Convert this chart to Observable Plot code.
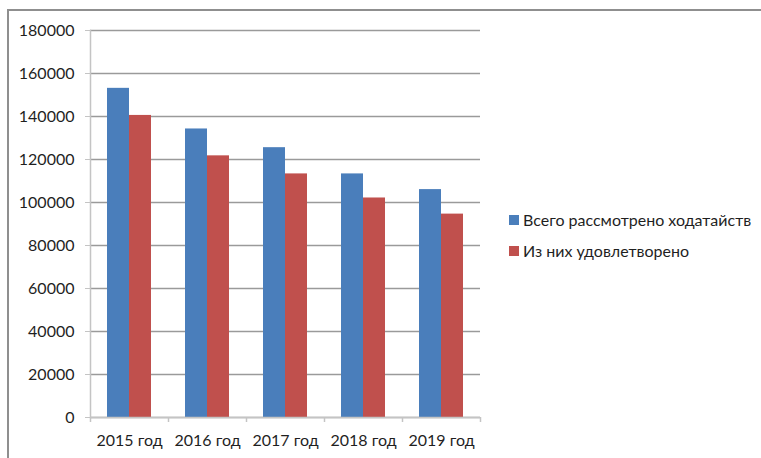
<!DOCTYPE html>
<html>
<head>
<meta charset="utf-8">
<script src="https://cdn.jsdelivr.net/npm/d3@7"></script>
<script src="https://cdn.jsdelivr.net/npm/@observablehq/plot@0.6"></script>
<style>
  html, body { margin: 0; padding: 0; background: #fff; }
  #wrap { position: relative; width: 761px; height: 458px; overflow: hidden; font-family: Lato, "Noto Sans", sans-serif; color: #1f1f1f; }
  #box { position: absolute; left: 7px; top: 9px; right: -10px; bottom: -10px; border-left: 2px solid #8f8f8f; border-top: 2px solid #8f8f8f; }
  #chart { position: absolute; left: 0; top: 0; }
  #legend { position: absolute; left: 509px; top: 209px; font-size: 16px; }
  .item { display: flex; align-items: center; height: 21px; margin-bottom: 10px; white-space: nowrap; }
  .sw { width: 10px; height: 10px; margin-right: 4px; }
</style>
</head>
<body>
<div id="wrap">
  <div id="box"></div>
  <div id="chart"></div>
  <div id="legend"></div>
</div>
<script>
// Applications considered vs. granted, by year
const years = ["2015 год", "2016 год", "2017 год", "2018 год", "2019 год"];
const totalConsidered = [153100, 134200, 125500, 113300, 106000];
const granted = [140500, 121700, 113300, 102100, 94600];
const seriesNames = ["Всего рассмотрено ходатайств", "Из них удовлетворено"];
const seriesColors = ["#4A7EBB", "#C0504D"];
const yTicks = [0, 20000, 40000, 60000, 80000, 100000, 120000, 140000, 160000, 180000];

const rows = years.map((year, i) => ({year, total: totalConsidered[i], granted: granted[i]}));

const chart = Plot.plot({
  width: 761,
  height: 458,
  marginLeft: 90,
  marginRight: 281,
  marginTop: 30,
  marginBottom: 41,
  style: {fontFamily: "Lato, 'Noto Sans', sans-serif", fontSize: "16px", color: "#1f1f1f", background: "transparent"},
  x: {domain: years, padding: 0, label: null},
  y: {domain: [0, 180000], label: null},
  marks: [
    Plot.gridY(yTicks, {stroke: "#9a9a9a", strokeOpacity: 1, strokeWidth: 1.5}),
    Plot.barY(rows, {x: "year", y: "total", fill: seriesColors[0], insetLeft: 17, insetRight: 39}),
    Plot.barY(rows, {x: "year", y: "granted", fill: seriesColors[1], insetLeft: 39, insetRight: 17}),
    Plot.frame({anchor: "left", stroke: "#c4c4c4", strokeWidth: 1.5}),
    Plot.ruleY([0], {stroke: "#c4c4c4", strokeWidth: 1.5}),
    // category boundary tick marks under the baseline
    Plot.ruleX(years, {x: d => d, y1: 0, y2: 0, dx: -39, insetBottom: -5, stroke: "#c4c4c4", strokeWidth: 1.5}),
    Plot.ruleX(years.slice(-1), {x: d => d, y1: 0, y2: 0, dx: 39, insetBottom: -5, stroke: "#c4c4c4", strokeWidth: 1.5}),
    Plot.axisY(yTicks, {tickSize: 5, tickPadding: 11, tickFormat: d3.format("d"), stroke: "#c4c4c4", fill: "#1f1f1f"}),
    Plot.axisX({tickSize: 0, tickPadding: 17, fill: "#1f1f1f"})
  ]
});
document.getElementById("chart").appendChild(chart);

const legend = document.getElementById("legend");
seriesNames.forEach((name, i) => {
  const item = document.createElement("div");
  item.className = "item";
  const sw = document.createElement("span");
  sw.className = "sw";
  sw.style.background = seriesColors[i];
  const label = document.createElement("span");
  label.textContent = name;
  item.append(sw, label);
  legend.appendChild(item);
});
</script>
</body>
</html>
